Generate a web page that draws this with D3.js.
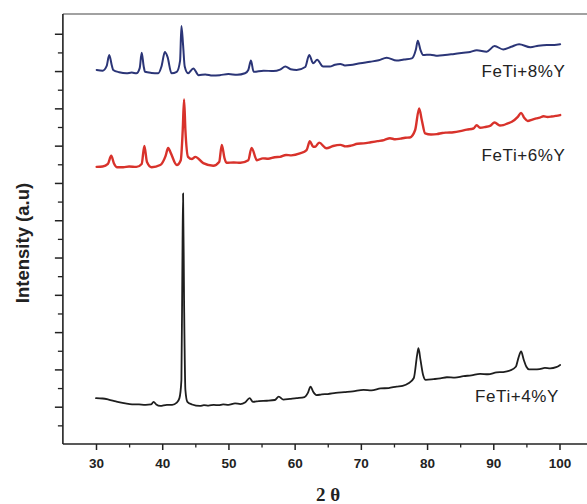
<!DOCTYPE html>
<html>
<head>
<meta charset="utf-8">
<script src="https://cdn.jsdelivr.net/npm/d3@7"></script>
<style>
  html, body { margin: 0; padding: 0; background: #fff; }
  svg { display: block; }
</style>
</head>
<body>
<svg id="chart" width="587" height="504"></svg>
<script>
// ---- DATA (2θ in degrees, intensity in arbitrary units) ----
const seriesNames = ["FeTi+8%Y", "FeTi+6%Y", "FeTi+4%Y"];
const xTickValues = [30, 40, 50, 60, 70, 80, 90, 100];

const theta8 = [30.1,31.0,31.6,32.0,32.4,32.6,33.5,34.6,35.4,36.1,36.6,36.9,37.2,37.4,38.4,39.4,39.9,40.4,40.8,41.4,42.2,42.7,42.9,43.15,43.4,43.9,44.7,45.5,46.5,47.6,48.7,50.0,51.3,52.5,53.0,53.4,53.8,55.3,56.8,57.8,58.6,59.4,60.3,61.6,62.2,62.8,63.4,64.3,65.3,66.1,66.9,67.6,68.4,69.9,71.4,72.7,73.9,75.4,76.5,77.7,78.3,78.6,79.0,79.4,80.5,81.6,82.7,84.1,85.5,86.5,87.5,89.0,90.2,91.5,92.7,93.9,95.6,96.8,98.1,99.2,100.1];
const int8 = [10.03,10.01,10.13,10.43,10.14,10.03,9.97,9.94,9.96,9.94,10.08,10.49,10.13,9.98,9.95,9.94,10.13,10.51,10.38,9.94,9.98,10.28,11.21,10.70,10.12,9.94,10.07,9.89,9.91,9.88,9.89,9.92,9.90,9.94,10.03,10.28,9.98,10.01,10.00,10.04,10.12,10.05,10.03,10.11,10.43,10.21,10.30,10.12,10.12,10.17,10.19,10.15,10.16,10.21,10.25,10.29,10.36,10.28,10.31,10.34,10.57,10.81,10.57,10.43,10.44,10.41,10.43,10.46,10.49,10.51,10.56,10.52,10.67,10.58,10.65,10.72,10.64,10.68,10.70,10.70,10.72];

const theta6 = [30.1,31.0,31.8,32.3,32.7,33.2,34.1,35.0,36.1,36.9,37.3,37.7,38.4,39.7,40.5,40.9,41.3,42.2,42.8,43.1,43.3,43.5,43.9,44.5,45.0,46.2,47.7,48.6,49.0,49.4,49.7,50.8,51.8,53.0,53.5,54.3,55.2,56.0,57.0,57.8,58.7,59.5,60.8,61.8,62.3,62.8,63.1,63.7,64.8,65.8,66.9,67.7,68.5,69.5,70.4,71.5,72.5,73.5,74.4,75.2,76.0,76.7,77.4,78.2,78.8,79.2,79.7,80.6,81.5,82.3,83.0,84.0,85.0,86.0,87.0,87.5,88.0,88.8,89.5,90.2,91.0,91.5,92.2,92.8,93.7,94.2,94.7,95.2,95.9,96.5,97.0,97.6,98.2,98.8,99.5,100.1];
const int6 = [7.43,7.44,7.51,7.73,7.53,7.42,7.42,7.44,7.43,7.51,7.99,7.56,7.42,7.48,7.72,7.94,7.80,7.48,7.61,8.42,9.24,8.42,7.70,7.64,7.70,7.53,7.46,7.56,8.02,7.67,7.54,7.55,7.54,7.61,7.94,7.61,7.66,7.65,7.69,7.70,7.75,7.74,7.79,7.88,8.12,7.97,7.97,8.08,7.93,7.99,8.02,7.98,8.00,8.05,8.06,8.09,8.12,8.15,8.20,8.17,8.19,8.21,8.22,8.42,9.00,8.69,8.33,8.30,8.31,8.34,8.35,8.36,8.39,8.43,8.46,8.55,8.48,8.50,8.53,8.62,8.54,8.55,8.60,8.64,8.77,8.88,8.74,8.66,8.70,8.73,8.75,8.79,8.77,8.78,8.80,8.82];

const theta4 = [30.0,31.0,31.9,33.0,34.0,35.1,36.5,37.5,38.3,38.7,39.1,39.7,40.7,41.5,42.2,42.6,42.9,43.05,43.15,43.3,43.5,43.8,44.5,45.7,46.3,47.0,47.8,48.5,49.2,50.0,51.0,51.8,52.5,53.2,53.7,54.6,55.8,57.0,57.6,58.3,59.3,60.3,61.5,62.0,62.4,62.8,63.3,64.1,65.0,66.2,67.5,68.8,70.4,71.6,73.0,74.2,75.4,76.3,77.2,78.0,78.5,78.7,79.0,79.4,79.8,81.0,82.0,83.0,84.2,85.5,86.7,88.0,89.2,90.5,91.5,92.5,93.4,93.8,94.2,94.6,95.0,95.4,96.2,97.0,97.8,98.6,99.5,100.1];
const int4 = [1.23,1.22,1.19,1.14,1.10,1.07,1.06,1.05,1.06,1.13,1.06,1.02,1.05,1.05,1.11,1.23,1.72,4.93,6.72,3.86,1.45,1.13,1.06,1.02,1.04,1.03,1.05,1.04,1.06,1.05,1.09,1.07,1.11,1.23,1.13,1.15,1.16,1.18,1.27,1.19,1.21,1.23,1.26,1.37,1.54,1.40,1.31,1.33,1.34,1.37,1.39,1.41,1.45,1.44,1.49,1.50,1.54,1.56,1.63,1.77,2.39,2.57,2.26,1.85,1.72,1.74,1.76,1.79,1.78,1.82,1.84,1.88,1.87,1.92,1.93,1.97,2.07,2.31,2.48,2.26,2.07,2.00,2.00,2.01,2.04,2.03,2.06,2.12];

// ---- LAYOUT ----
const svg = d3.select("#chart");
const x = d3.scaleLinear().domain([30, 100]).range([96, 559.5]);
const y = d3.scaleLinear().domain([0, 11.53]).range([444, 14]);
const axisLeftX = x(25);
const axisRightX = 587;

const series = [
  { name: seriesNames[0], xs: theta8, ys: int8, color: "#2b3577", width: 2.0, lx: 481.5, ly: 77 },
  { name: seriesNames[1], xs: theta6, ys: int6, color: "#d8322b", width: 2.4, lx: 481.5, ly: 160.5 },
  { name: seriesNames[2], xs: theta4, ys: int4, color: "#1e1e1e", width: 1.8, lx: 475, ly: 401.5 }
];

const line = d3.line().x(d => x(d[0])).y(d => y(d[1])).curve(d3.curveMonotoneX);

series.forEach(s => {
  const pts = s.xs.map((v, i) => [v, s.ys[i]]);
  svg.append("path")
    .datum(pts)
    .attr("d", line)
    .attr("fill", "none")
    .attr("stroke", s.color)
    .attr("stroke-width", s.width)
    .attr("stroke-linejoin", "round")
    .attr("stroke-linecap", "round");
  svg.append("text")
    .attr("x", s.lx).attr("y", s.ly)
    .attr("font-family", "Liberation Sans, Arial, sans-serif")
    .attr("font-size", 17)
    .attr("letter-spacing", 0.6)
    .attr("fill", "#222")
    .text(s.name);
});

// top frame line
svg.append("line")
  .attr("x1", axisLeftX).attr("x2", axisRightX)
  .attr("y1", y(11.53)).attr("y2", y(11.53))
  .attr("stroke", "#444").attr("stroke-width", 1.2);

// X axis
const xAxis = d3.axisBottom(x)
  .tickValues(xTickValues)
  .tickSize(6)
  .tickSizeOuter(0)
  .tickPadding(8);
const gx = svg.append("g").attr("transform", `translate(0,${y(0)})`).call(xAxis);
gx.select(".domain").remove();
gx.selectAll(".tick line").attr("stroke", "#222").attr("stroke-width", 1.5);
gx.selectAll(".tick text")
  .attr("font-family", "Liberation Sans, Arial, sans-serif")
  .attr("font-size", 13.5)
  .attr("font-weight", "bold")
  .attr("fill", "#222");
// minor x ticks
const gxm = svg.append("g").attr("transform", `translate(0,${y(0)})`)
  .call(d3.axisBottom(x).tickValues(d3.range(35, 101, 10)).tickSize(3.5).tickFormat(""));
gxm.select(".domain").remove();
gxm.selectAll(".tick line").attr("stroke", "#222").attr("stroke-width", 1.3);
svg.append("line")
  .attr("x1", axisLeftX).attr("x2", axisRightX)
  .attr("y1", y(0)).attr("y2", y(0))
  .attr("stroke", "#222").attr("stroke-width", 1.6);

// Y axis (no labels)
const gy = svg.append("g").attr("transform", `translate(${axisLeftX},0)`)
  .call(d3.axisLeft(y).tickValues(d3.range(1, 12, 1)).tickSize(8).tickFormat(""));
gy.select(".domain").remove();
gy.selectAll(".tick line").attr("stroke", "#222").attr("stroke-width", 1.5);
const gym = svg.append("g").attr("transform", `translate(${axisLeftX},0)`)
  .call(d3.axisLeft(y).tickValues(d3.range(0.5, 11.5, 1)).tickSize(5).tickFormat(""));
gym.select(".domain").remove();
gym.selectAll(".tick line").attr("stroke", "#222").attr("stroke-width", 1.3);
svg.append("line")
  .attr("x1", axisLeftX).attr("x2", axisLeftX)
  .attr("y1", y(11.53)).attr("y2", y(0))
  .attr("stroke", "#222").attr("stroke-width", 1.6);

// Axis titles
svg.append("text")
  .attr("transform", "translate(29,243) rotate(-90)")
  .attr("text-anchor", "middle")
  .attr("font-family", "Liberation Sans, Arial, sans-serif")
  .attr("font-size", 18.5)
  .attr("font-weight", "bold")
  .attr("fill", "#222")
  .text("Intensity (a.u)");

svg.append("text")
  .attr("x", 328).attr("y", 501)
  .attr("text-anchor", "middle")
  .attr("font-family", "Liberation Serif, Times New Roman, serif")
  .attr("font-size", 19)
  .attr("font-weight", "bold")
  .attr("fill", "#222")
  .text("2 θ");
</script>
</body>
</html>
